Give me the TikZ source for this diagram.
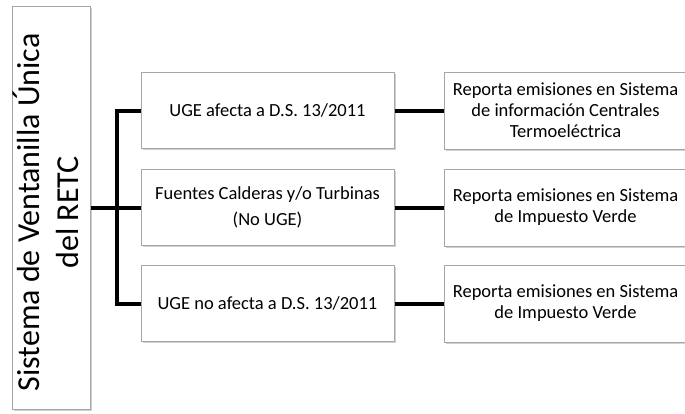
\documentclass[tikz,border=0pt]{standalone}
\usepackage{fontspec}
\setmainfont{Carlito}
\usetikzlibrary{positioning,shadows}
\tikzset{
  box/.style={draw=gray!70, line width=1pt, fill=white, align=center,
    drop shadow={shadow xshift=1.5pt, shadow yshift=-1.5pt, opacity=.18, fill=black},
    font=\fontsize{18.5}{21}\selectfont},
  midbox/.style={box, minimum width=253pt, minimum height=76pt},
  repbox/.style={box, minimum width=243pt, minimum height=77pt},
  link/.style={line width=4pt, black}
}
\begin{document}
\begin{tikzpicture}
            \useasboundingbox (0,0) rectangle (685pt,-413pt);
            % Define nodes
            \node[box, minimum width=76pt, minimum height=403pt, inner sep=0pt,
              font=\fontsize{32}{39}\selectfont] (RETC) at (51pt,-207.5pt)
              {\rotatebox{90}{\begin{tabular}{@{}c@{}}Sistema de Ventanilla Única\\del RETC\end{tabular}\hspace{10pt}}};
            \node[midbox, right=50pt of RETC]     (Fuentes) {Fuentes Calderas y/o Turbinas\\[5pt](No UGE)};
            \node[midbox, above=20pt of Fuentes]  (UGEa) {UGE afecta a D.S. 13/2011};
            \node[midbox, below=19pt of Fuentes]  (UGEn) {UGE no afecta a D.S. 13/2011};
            \node[repbox, right=49pt of UGEa]     (RepA) {Reporta emisiones en Sistema\\de información Centrales\\Termoeléctrica};
            \node[repbox, right=49pt of Fuentes]  (RepF) {Reporta emisiones en Sistema\\de Impuesto Verde};
            \node[repbox, right=49pt of UGEn]     (RepN) {Reporta emisiones en Sistema\\de Impuesto Verde};

            % Connect the nodes
            \draw[link] (RETC) -- (Fuentes);
            \draw[link] (UGEa.west) -- ++(-24pt,0) |- (UGEn.west);
            \draw[link] (UGEa) -- (RepA);
            \draw[link] (Fuentes) -- (RepF);
            \draw[link] (UGEn) -- (RepN);
          \end{tikzpicture}
\end{document}
